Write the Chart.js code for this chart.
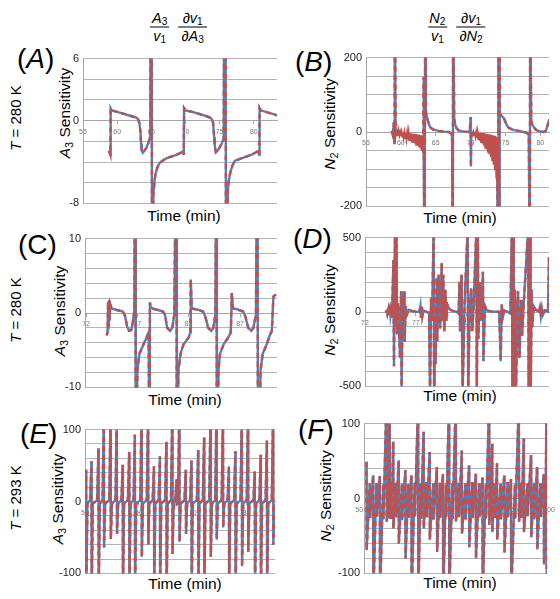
<!DOCTYPE html>
<html>
<head>
<meta charset="utf-8">
<script src="https://cdn.jsdelivr.net/npm/chart.js@4.4.1/dist/chart.umd.min.js"></script>
<style>
body { margin: 0; background: #fff; width: 560px; height: 599px; position: relative; overflow: hidden;
       font-family: "Liberation Sans", Arial, sans-serif; color: #000; }
canvas { position: absolute; }
.t { position: absolute; white-space: nowrap; line-height: 1; }
.rot { transform: translate(-50%, -50%) rotate(-90deg); }
.ctr { transform: translate(-50%, -50%); }
.ytitle { font-size: 15.5px; }
.time { font-size: 15.5px; }
.row { font-size: 15px; }
.letter { font-size: 28px; }
sub { font-size: 70%; vertical-align: -0.25em; line-height: 0; }
.hdr { font-size: 14.5px; }
.frac { display: inline-flex; flex-direction: column; align-items: center; vertical-align: middle; margin: 0 2px; }
.frac > span { padding: 1px 3px; line-height: 15px; }
.frac > .den { border-top: 1.3px solid #000; }
</style>
</head>
<body>

<div class="t hdr ctr" style="left:178px;top:27px">
  <span class="frac"><span><i>A</i><sub>3</sub></span><span class="den"><i>v</i><sub>1</sub></span></span>
  <span class="frac"><span>&part;<i>v</i><sub>1</sub></span><span class="den">&part;<i>A</i><sub>3</sub></span></span>
</div>
<div class="t hdr ctr" style="left:456px;top:27px">
  <span class="frac"><span><i>N</i><sub>2</sub></span><span class="den"><i>v</i><sub>1</sub></span></span>
  <span class="frac"><span>&part;<i>v</i><sub>1</sub></span><span class="den">&part;<i>N</i><sub>2</sub></span></span>
</div>

<div class="t row rot" style="left:15px;top:118px"><i>T</i> = 280 K</div>
<div class="t row rot" style="left:15px;top:310px"><i>T</i> = 280 K</div>
<div class="t row rot" style="left:15px;top:498px"><i>T</i> = 293 K</div>

<div class="t letter" style="left:17px;top:45px">(<i>A</i>)</div>
<div class="t letter" style="left:295px;top:48px">(<i>B</i>)</div>
<div class="t letter" style="left:18px;top:231px">(C)</div>
<div class="t letter" style="left:293px;top:225px">(<i>D</i>)</div>
<div class="t letter" style="left:20px;top:420px">(<i>E</i>)</div>
<div class="t letter" style="left:298px;top:416px">(<i>F</i>)</div>

<div class="t ytitle rot" style="left:65px;top:113px"><i>A</i><sub>3</sub> Sensitivity</div>
<div class="t ytitle rot" style="left:330px;top:124px"><i>N</i><sub>2</sub> Sensitivity</div>
<div class="t ytitle rot" style="left:60px;top:311px"><i>A</i><sub>3</sub> Sensitivity</div>
<div class="t ytitle rot" style="left:330px;top:310px"><i>N</i><sub>2</sub> Sensitivity</div>
<div class="t ytitle rot" style="left:58px;top:499px"><i>A</i><sub>3</sub> Sensitivity</div>
<div class="t ytitle rot" style="left:326px;top:496px"><i>N</i><sub>2</sub> Sensitivity</div>

<div class="t time ctr" style="left:184px;top:216px">Time (min)</div>
<div class="t time ctr" style="left:460px;top:218px">Time (min)</div>
<div class="t time ctr" style="left:185px;top:400px">Time (min)</div>
<div class="t time ctr" style="left:460px;top:396px">Time (min)</div>
<div class="t time ctr" style="left:185px;top:584px">Time (min)</div>
<div class="t time ctr" style="left:460px;top:583px">Time (min)</div>

<canvas id="cA" width="244" height="166" style="left:43px;top:48px"></canvas>
<canvas id="cB" width="233" height="170" style="left:326px;top:47px"></canvas>
<canvas id="cC" width="242" height="170" style="left:45px;top:228px"></canvas>
<canvas id="cD" width="234" height="170" style="left:325px;top:227px"></canvas>
<canvas id="cE" width="240" height="165" style="left:45px;top:419px"></canvas>
<canvas id="cF" width="235" height="171" style="left:324px;top:413px"></canvas>

<script>
// (A) A3 sensitivity, T = 280 K
var aTime = [58.8,59.0,59.05,59.2,60.0,61.0,62.0,62.8,63.05,63.25,63.4,63.5,63.6,63.75,64.0,64.3,64.6,64.85,65.0,65.15,
  65.3,65.45,65.6,65.9,66.2,66.7,67.2,68.0,68.7,69.3,69.65,69.75,69.8,70.0,71.0,72.0,73.0,73.6,73.85,74.05,
  74.2,74.3,74.45,74.7,75.0,75.3,75.6,75.8,76.0,76.2,76.35,76.6,76.9,77.2,77.8,78.4,79.0,79.6,80.2,80.6,
  80.8,80.85,81.0,82.0,83.0,83.4];
var aSens = [-2.9,-3.3,1.2,1.0,0.85,0.65,0.45,0.3,0.15,-0.2,-1.0,-2.2,-2.9,-3.1,-2.9,-2.6,-2.1,-1.5,40,-40,
  -7.1,-6.0,-5.2,-4.5,-4.1,-3.85,-3.65,-3.45,-3.3,-3.1,-2.95,-3.3,1.2,1.0,0.85,0.65,0.45,0.3,0.15,-0.2,
  -1.6,-2.5,-3.05,-2.9,-2.6,-2.2,-1.75,40,-40,-6.8,-5.8,-4.9,-4.3,-3.9,-3.75,-3.6,-3.45,-3.3,-3.1,-2.95,
  -3.3,1.2,1.0,0.8,0.6,0.5];
var aTicks = ['55','60','65','70','75','80'];

// (B) N2 sensitivity, T = 280 K
var bTime = [58.7,58.8,58.9,59.0,59.05,59.1,59.15,59.25,59.6,60.5,61.5,62.5,63.0,63.2,63.25,63.3,63.4,63.5,63.6,63.75,
  64.0,64.2,64.6,65.4,66.2,66.9,67.2,67.35,67.45,67.5,67.65,67.8,68.0,68.3,69.0,69.7,69.9,70.0,70.05,70.1,
  70.6,71.5,72.5,73.3,73.8,73.95,74.0,74.1,74.15,74.2,74.4,74.8,75.2,75.5,76.2,76.9,77.6,78.1,78.35,78.5,
  78.55,78.7,78.9,79.3,79.8,80.5,80.8,81.0,81.2,81.3];
var bSens = [3,-4,8,27,-30,5,400,0,-3,-6,-12,-20,-28,-35,147,-55,-400,400,53,40,
  22,13,7,3,1,0,-4,-12,-400,400,35,20,10,4,1,0,5,40,-93,0,
  -4,-10,-22,-40,-70,-400,400,-400,400,49,45,36,18,11,5,3,0,-2,-9,-400,
  400,30,18,7,2,0,3,15,28,35];
var bBandTime = [59.3,59.4,59.5,59.6,59.7,59.8,59.9,60.0,60.1,60.2,60.3,60.4,60.5,60.6,60.7,60.8,60.9,61.0,61.1,61.2,
  61.3,61.4,61.5,61.6,61.7,61.8,61.9,62.0,62.1,62.2,62.3,62.4,62.5,62.6,62.7,62.8,62.9,63.0,63.1,63.2,
  66.0,
  70.2,70.3,70.4,70.5,70.6,70.7,70.8,70.9,71.0,71.1,71.2,71.3,71.4,71.5,71.6,71.7,71.8,71.9,72.0,72.1,
  72.2,72.3,72.4,72.5,72.6,72.7,72.8,72.9,73.0,73.1,73.2,73.3,73.4,73.5,73.6,73.7,73.8,73.9];
var bBandSens = [0,-6,0,-8,0,-9,-1,-11,-1,-13,-1,-14,-2,-16,-2,-18,-2,-20,-3,-22,
  -3,-24,-4,-26,-4,-29,-5,-31,-5,-34,-6,-37,-7,-40,-8,-44,-9,-50,-10,-57,
  null,
  0,-6,0,-9,-1,-12,-1,-15,-1,-19,-2,-23,-2,-27,-3,-31,-3,-36,-4,-42,
  -5,-47,-5,-53,-6,-60,-7,-67,-8,-76,-9,-88,-10,-103,-12,-125,-14,-160];
var bTicks = ['55','60','65','70','75','80'];

// (C) A3 sensitivity, T = 280 K
var cTime = [74.0,74.1,74.15,74.2,74.25,74.3,74.35,74.5,75.0,75.6,75.8,76.0,76.2,76.4,76.55,76.7,76.8,76.85,77.0,77.2,
  77.6,77.9,78.1,78.18,78.22,78.3,78.5,79.0,79.5,79.7,79.9,80.2,80.4,80.6,80.8,80.85,81.0,81.2,81.5,82.0,
  82.15,82.2,82.3,83.0,83.4,83.6,83.9,84.2,84.4,84.6,84.7,84.75,84.9,85.05,85.4,85.85,86.1,86.2,86.3,86.7,
  87.3,87.5,87.8,88.1,88.3,88.55,88.7,88.75,89.0,89.2,89.6,89.9,90.1,90.25,90.5];
var cSens = [-3.0,-2.6,1.5,-2.2,1.7,-1.0,1.2,0.6,0.4,0.2,-0.4,-1.8,-2.4,-2.3,-1.3,0.2,30,-30,-7.7,-5.5,
  -4.2,-3.3,-2.6,-30,1.4,0.8,0.6,0.4,0.2,-0.3,-2.0,-2.4,-2.0,-0.2,30,-30,-7.7,-5.5,-4.2,-3.3,
  -2.6,4.5,0.6,0.4,0.2,-0.4,-2.0,-2.4,-2.0,-0.2,30,-30,-7.7,-5.5,-4.2,-3.3,-2.6,2.7,0.6,0.5,
  0.2,-0.4,-2.0,-2.4,-2.0,-0.2,30,-30,-7.7,-5.5,-4.2,-3.0,-2.4,2.2,2.5];
var cTicks = ['72','77','82','87'];

// (D) N2 sensitivity, T = 280 K
var dTime = [74.0,74.15,74.2,74.3,74.35,74.45,74.5,74.6,74.65,74.8,74.85,74.95,75.0,75.1,75.15,75.25,75.45,75.55,75.6,75.7,
  75.75,75.85,75.9,76.0,76.1,76.3,76.6,77.0,77.35,77.45,77.5,77.6,77.65,77.75,78.0,78.3,78.4,78.5,78.6,78.75,
  78.8,78.85,78.95,79.05,79.1,79.25,79.4,79.55,79.6,79.7,79.8,79.9,80.0,80.1,80.3,80.6,81.0,81.2,81.3,81.35,
  81.5,81.6,81.8,82.1,82.15,82.3,82.45,82.55,82.7,82.95,83.0,83.1,83.15,83.3,83.45,83.6,83.65,83.8,84.0,84.5,
  85.2,85.35,85.45,85.55,85.7,86.0,86.3,86.45,86.5,86.6,86.65,86.75,86.85,87.0,87.05,87.2,87.35,87.4,87.45,87.6,
  88.05,88.1,88.25,88.3,88.4,88.45,88.6,88.8,89.1,89.2,89.3,89.4,89.5,89.7,90.0,90.1,90.15];
var dSens = [0,8,-12,18,-20,15,-25,30,-40,350,-365,560,-100,560,-150,60,-310,140,-560,100,
  -60,140,-200,40,-20,15,8,3,0,40,-40,35,-25,10,2,-5,-560,95,-60,560,
  -560,40,-350,230,-200,250,-110,330,-60,250,-130,150,-60,50,20,8,2,-10,205,-130,
  250,-560,60,560,-560,30,160,-130,60,560,-560,560,-180,200,-60,270,-330,40,10,3,
  0,-330,50,-40,10,2,-10,560,-560,560,-560,150,-560,60,140,-310,80,-20,-160,40,
  560,-560,560,-560,150,-100,40,15,5,30,-30,25,-20,10,5,370,-560];
var dTicks = ['72','77','82','87'];

// (E) A3 sensitivity, T = 293 K: one up/down pair per oscillation
var eTime = [50.2,51.2,52.5,53.5,54.75,55.9,57.0,58.2,59.25,60.5,61.7,62.8,63.9,65.1,66.2,67.0,
  67.5,68.7,69.75,71.0,72.1,73.3,74.4,75.6,76.7,77.9,79.1,80.25,81.5,82.6,83.75,84.9];
var eUp = [44,56,74,130,130,130,51,69,93,130,130,49,63,83,130,31,
  130,44,57,72,89,130,130,130,49,70,130,130,42,65,85,130];
var eDown = [-130,-130,-130,-64,-52,-45,-130,-130,-130,-77,-60,-130,-130,-130,-73,-4,
  -56,-45,-130,-130,-130,-77,-53,-36,-130,-130,-90,-70,-130,-130,-130,-60];
var eTicks = ['50','60','70','80'];

// (F) N2 sensitivity, T = 293 K: big swings plus the +-20 band between them
var fTime = [50.4,51.5,52.6,53.7,54.2,54.8,55.7,56.8,57.8,58.9,59.8,60.8,62.0,63.0,64.0,65.1,
  66.1,67.3,68.4,69.5,70.6,71.1,71.9,73.1,74.2,75.5,76.3,77.5,78.5,79.6,80.05];
var fUp = [49,31,30,130,130,76,51,38,31,130,89,62,42,33,130,130,
  64,44,33,28,130,73,47,31,26,130,80,58,42,33,130];
var fDown = [-69,-130,-130,-31,-27,-40,-60,-80,-130,-130,-40,-55,-71,-130,-130,-31,
  -47,-65,-80,-130,-35,-45,-55,-72,-130,-31,-45,-52,-68,-88,-130];
var fBandTime = [50.95,52.05,53.15,53.95,54.5,55.25,56.25,57.3,58.35,59.35,60.3,61.4,62.5,63.5,64.55,
  65.6,66.7,67.85,68.95,70.05,70.85,71.5,72.5,73.65,74.85,75.9,76.9,78.0,79.05,79.85];
var fBandUp = [20,21,19,22,20,21,20,19,21,20,22,20,21,19,20,21,20,22,20,19,21,20,20,22,19,21,20,21,20,22];
var fBandDown = [-26,-24,-28,-25,-27,-25,-29,-26,-24,-27,-25,-28,-26,-24,-27,-25,-28,-26,-25,-27,
  -24,-26,-28,-25,-27,-26,-24,-28,-25,-26];
var fTicks = ['50.00','55.00','60.00','65.00','70.00','75.00','80.00'];

var BLUE = '#4f81bd';
var RED = '#c0504d';
var FONT = '"Liberation Sans", Arial, sans-serif';

function pts(xs, ys) {
    return xs.map(function (x, i) { return {x: x, y: ys[i]}; });
}

function spikes(ts, ups, downs) {
    var out = [];
    ts.forEach(function (t, i) {
        out.push({x: t - 0.25, y: 2}, {x: t, y: ups[i]}, {x: t + 0.04, y: downs[i]}, {x: t + 0.25, y: -3});
    });
    return out;
}

function spikesWithBand() {
    var out = [];
    fTime.forEach(function (t, i) {
        out.push({x: t, y: fUp[i]}, {x: t + 0.04, y: fDown[i]});
        if (i < fBandTime.length) {
            out.push({x: fBandTime[i], y: fBandUp[i]}, {x: fBandTime[i] + 0.04, y: fBandDown[i]});
        }
    });
    return out;
}

function drawPanel(id, o) {
    var sets = [];
    if (o.band) {
        sets.push({data: o.band, borderColor: RED, borderWidth: 2, spanGaps: false, clip: 0});
    }
    sets.push({data: o.data, borderColor: RED, borderWidth: 2.4, borderDash: [5, 4], clip: 0});
    sets.push({data: o.data, borderColor: BLUE, borderWidth: 2.4, clip: 0});

    var xValues = o.xTicks.map(Number);
    new Chart(document.getElementById(id), {
        type: 'line',
        data: {datasets: sets},
        options: {
            responsive: false,
            animation: false,
            events: [],
            layout: {padding: {top: 10, right: 10, bottom: 10, left: 0}},
            plugins: {legend: {display: false}, tooltip: {enabled: false}},
            elements: {point: {radius: 0}, line: {tension: 0}},
            scales: {
                x: {
                    type: 'linear', min: o.xMin, max: o.xMax, position: {y: 0},
                    grid: {drawOnChartArea: false, tickLength: 3, color: '#a6a6a6'},
                    border: {color: '#a6a6a6'},
                    afterBuildTicks: function (s) { s.ticks = xValues.map(function (v) { return {value: v}; }); },
                    ticks: {
                        autoSkip: false, maxRotation: 0, padding: 4, color: '#777',
                        font: {family: FONT, size: 7},
                        callback: function (v, i) { return o.xTicks[i]; }
                    }
                },
                y: {
                    min: o.yMin, max: o.yMax,
                    afterFit: function (s) { s.width = 40; },
                    grid: {color: '#b4b4b4', drawTicks: false},
                    border: {color: '#a6a6a6'},
                    ticks: {
                        stepSize: o.yStep, autoSkip: false, padding: 4, color: '#222',
                        font: {family: FONT, size: 11},
                        callback: function (v) { return o.yShow.indexOf(v) >= 0 ? String(v) : ''; }
                    }
                }
            }
        }
    });
}

drawPanel('cA', {data: pts(aTime, aSens), xMin: 55, xMax: 83.4, xTicks: aTicks,
    yMin: -8, yMax: 6, yStep: 2, yShow: [6, 0, -8]});
drawPanel('cB', {data: pts(bTime, bSens), band: pts(bBandTime, bBandSens), xMin: 55, xMax: 81.25, xTicks: bTicks,
    yMin: -200, yMax: 200, yStep: 50, yShow: [200, 0, -200]});
drawPanel('cC', {data: pts(cTime, cSens), xMin: 71.9, xMax: 90.6, xTicks: cTicks,
    yMin: -10, yMax: 10, yStep: 2, yShow: [10, 0, -10]});
drawPanel('cD', {data: pts(dTime, dSens), xMin: 72, xMax: 90.1, xTicks: dTicks,
    yMin: -500, yMax: 500, yStep: 100, yShow: [500, 0, -500]});
drawPanel('cE', {data: spikes(eTime, eUp, eDown), xMin: 50, xMax: 85.25, xTicks: eTicks,
    yMin: -100, yMax: 100, yStep: 20, yShow: [100, 0, -100]});
drawPanel('cF', {data: spikesWithBand(), xMin: 50, xMax: 80.15, xTicks: fTicks,
    yMin: -100, yMax: 100, yStep: 20, yShow: [100, 0, -100]});
</script>
</body>
</html>
